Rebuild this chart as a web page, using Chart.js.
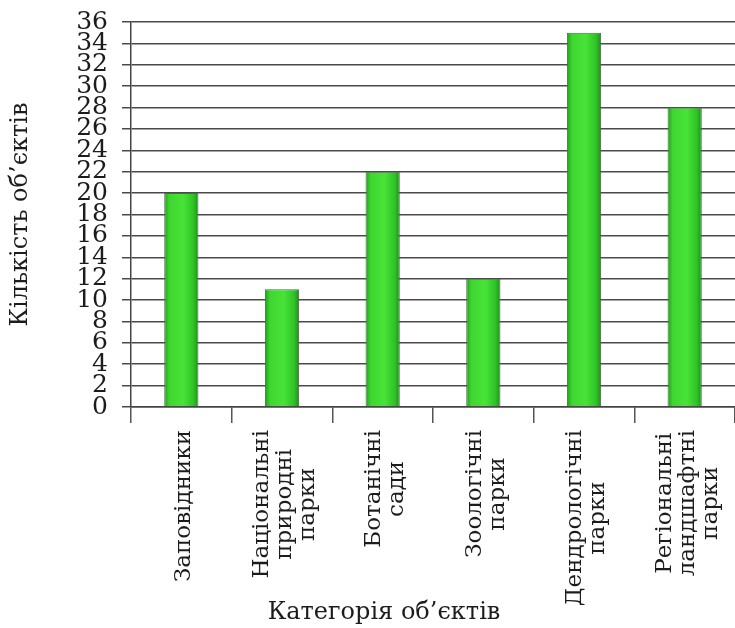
<!DOCTYPE html>
<html>
<head>
<meta charset="utf-8">
<script src="https://cdn.jsdelivr.net/npm/chart.js@4/dist/chart.umd.min.js"></script>
<style>
  html, body { margin: 0; padding: 0; background: #fff; }
  #wrap { width: 735px; height: 628px; }
</style>
</head>
<body>
<div id="wrap"><canvas id="chart" width="735" height="628"></canvas></div>
<script>
// categories (multi-line labels) and values
const categories = [
  ['Заповідники'],
  ['Національні', 'природні', 'парки'],
  ['Ботанічні', 'сади'],
  ['Зоологічні', 'парки'],
  ['Дендрологічні', 'парки'],
  ['Регіональні', 'ландшафтні', 'парки']
];
const counts = [20, 11, 22, 12, 35, 28];
const yTitle = 'Кількість об\u2019єктів';
const xTitle = 'Категорія об\u2019єктів';

const serif = '"DejaVu Serif", "Liberation Serif", serif';
const ink = '#1c1c1c';

function barFill(context) {
  const chart = context.chart;
  const xs = chart.scales && chart.scales.x;
  if (!xs || !chart.chartArea || context.dataIndex === undefined) return '#3fd630';
  const cx = xs.getPixelForValue(context.dataIndex);
  const w = (chart.chartArea.width / categories.length) * 0.34;
  const g = chart.ctx.createLinearGradient(cx - w / 2, 0, cx + w / 2, 0);
  g.addColorStop(0, '#1e9e1c');
  g.addColorStop(0.15, '#3fd630');
  g.addColorStop(0.55, '#48e338');
  g.addColorStop(0.85, '#2fc426');
  g.addColorStop(1, '#1b8f1a');
  return g;
}

// draws the rotated category labels and the x title
const labelsPlugin = {
  id: 'catLabels',
  afterDraw(chart) {
    const ctx = chart.ctx;
    const xs = chart.scales.x;
    ctx.save();
    ctx.fillStyle = ink;
    ctx.font = '23px ' + serif;
    const lineH = 23;
    categories.forEach((lines, i) => {
      const x = xs.getPixelForValue(i) + 3;
      const maxW = Math.max(...lines.map(l => ctx.measureText(l).width));
      ctx.save();
      ctx.translate(x, 430);
      ctx.rotate(-Math.PI / 2);
      ctx.textAlign = 'center';
      ctx.textBaseline = 'middle';
      lines.forEach((l, j) => {
        ctx.fillText(l, -maxW / 2, (j - (lines.length - 1) / 2) * lineH);
      });
      ctx.restore();
    });
    ctx.font = '24px ' + serif;
    ctx.textAlign = 'center';
    ctx.textBaseline = 'middle';
    ctx.fillText(xTitle, 384, 613);
    ctx.restore();
  }
};

new Chart(document.getElementById('chart'), {
  type: 'bar',
  data: {
    labels: categories,
    datasets: [{
      data: counts,
      backgroundColor: barFill,
      borderColor: '#4a6e44',
      borderWidth: 1,
      barPercentage: 0.34,
      categoryPercentage: 1
    }]
  },
  options: {
    responsive: false,
    animation: false,
    layout: { padding: { top: 22, right: 0, bottom: 0, left: 0 } },
    plugins: {
      legend: { display: false },
      tooltip: { enabled: false }
    },
    scales: {
      x: {
        offset: true,
        afterFit(scale) { scale.height = 221; },
        grid: {
          display: true,
          offset: true,
          drawOnChartArea: false,
          drawTicks: true,
          tickLength: 16,
          color: '#555',
          lineWidth: 1.5
        },
        border: { display: true, color: '#444', width: 1.5 },
        ticks: { display: false }
      },
      y: {
        min: 0,
        max: 36,
        afterFit(scale) {
          scale.width = 131;
          scale.paddingTop = 0;
          scale.paddingBottom = 0;
        },
        ticks: {
          stepSize: 2,
          autoSkip: false,
          padding: 14,
          color: ink,
          font: { family: serif, size: 25, lineHeight: 0.9 }
        },
        grid: {
          color: '#4a4a4a',
          lineWidth: 1.5,
          tickLength: 9
        },
        border: { display: true, color: '#444', width: 1.5 },
        title: {
          display: true,
          text: yTitle,
          color: ink,
          font: { family: serif, size: 24 },
          padding: { top: 6, bottom: 0 }
        }
      }
    }
  },
  plugins: [labelsPlugin]
});
</script>
</body>
</html>
